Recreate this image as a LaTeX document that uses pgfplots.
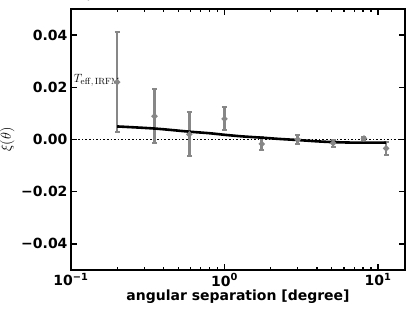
\documentclass[border=0pt]{standalone}
\usepackage[no-math]{fontspec}
\setmainfont{DejaVu Sans}
\usepackage{pgfplots}
\pgfplotsset{compat=1.18}
\definecolor{eb}{RGB}{135,135,135}
\begin{document}
\begin{tikzpicture}[x=1bp,y=1bp]
\path[use as bounding box] (-71bp,-42bp) rectangle (344bp,270bp);
\begin{axis}[
  at={(0,0)}, anchor=south west,
  scale only axis, width=334bp, height=261bp,
  xmode=log, xmin=0.1, xmax=15, ymin=-0.05, ymax=0.05,
  axis line style={line width=2.6bp},
  tick style={line width=1.3bp, black},
  major tick length=6bp, minor tick length=3.5bp,
  tick align=inside,
  xtick={0.1,1,10}, xticklabels={{10\textsuperscript{−1}},{10\textsuperscript{0}},{10\textsuperscript{1}}},
  ytick={-0.04,-0.02,0,0.02,0.04},
  yticklabels={−0.04,−0.02,0.00,0.02,0.04},
  ticklabel style={font=\fontsize{14bp}{16bp}\selectfont\bfseries},
  /pgf/number format/assume math mode=true,
  xlabel={\bfseries angular separation [degree]},
  xlabel style={font=\fontsize{14bp}{16bp}\selectfont, yshift=3bp},
  ylabel={$\xi(\theta)$},
  ylabel style={font=\fontsize{14bp}{16bp}\selectfont, yshift=0bp},
  clip=false,
]
\addplot[black, dotted, line width=1.6bp, forget plot] coordinates {(0.1,0) (15,0)};
\addplot[eb, line width=2.6bp, mark=*, mark size=1.5bp, only marks,
  mark options={eb},
  error bars/.cd, y dir=both, y explicit,
  error bar style={line width=2.6bp, eb},
  error mark options={rotate=90, mark size=2.5bp, line width=2bp, eb}]
  coordinates {
  (0.2,0.022) +- (0,0.019)
  (0.35,0.0089) +- (0,0.0104)
  (0.59,0.002) +- (0,0.0085)
  (1.0,0.0079) +- (0,0.0044)
  (1.75,-0.0017) +- (0,0.0025)
  (3.0,0.0) +- (0,0.0019)
  (5.1,-0.0014) +- (0,0.0013)
  (8.1,0.0004) +- (0,0.0006)
  (11.3,-0.0034) +- (0,0.0024)
  };
\addplot[black, line width=2.6bp, smooth] coordinates {
  (0.2,0.005) (0.35,0.0042) (0.59,0.003) (0.8,0.0024) (1.0,0.0018) (1.3,0.0012) (1.75,0.0007) (2.3,0.0002) (3.0,-0.0002) (4.0,-0.0007) (5.1,-0.001) (7,-0.0012) (9,-0.0012) (11.3,-0.0012)};
\node[anchor=west, font=\fontsize{13bp}{15bp}\selectfont, inner sep=0pt] at (axis cs:0.104,0.0227) {$T_{\mathrm{eff,\,IRFM}}$};
\end{axis}
\end{tikzpicture}
\end{document}
